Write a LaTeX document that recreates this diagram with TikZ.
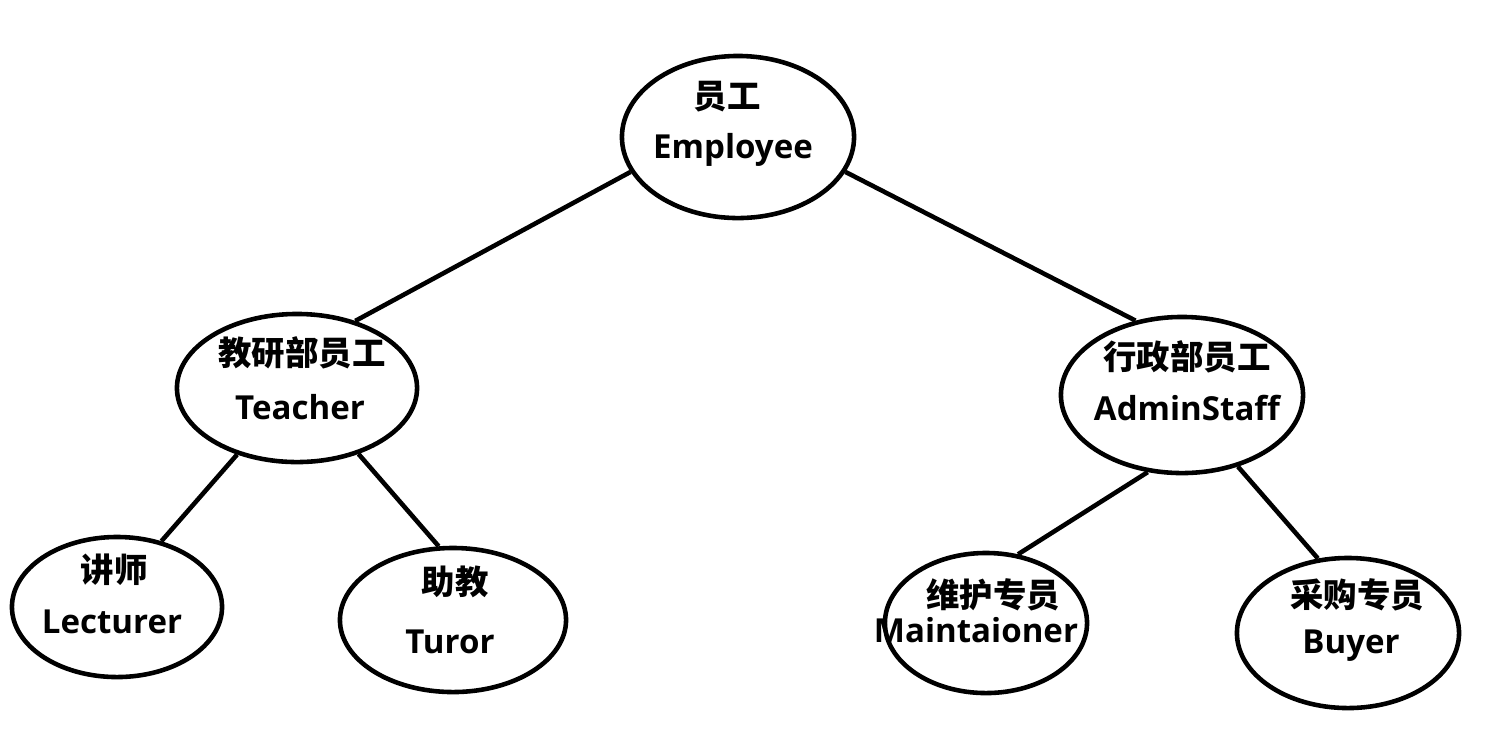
\documentclass[tikz,border=0pt]{standalone}
\usepackage{fontspec}
\setmainfont{Open Sans}
\newfontfamily\cjk{Noto Sans CJK SC}
\usetikzlibrary{shapes.geometric}
\begin{document}
\begin{tikzpicture}[x=0.01cm, y=-0.01cm,
    role/.style ={ellipse, draw, line width=1.3pt, inner sep=0pt},
    link/.style ={line width=1.3pt},
    zh/.style ={font=\cjk\bfseries\fontsize{9.5}{11}\selectfont, inner sep=0pt},
    en/.style ={font=\bfseries\fontsize{9.4}{11}\selectfont, inner sep=0pt, anchor=base}]
   \useasboundingbox (0,0) rectangle (1496,732);

   \node[role, minimum width=2.32cm, minimum height=1.62cm] (emp) at (738,137) {};
   \node[role, minimum width=2.40cm, minimum height=1.48cm] (tea) at (297,388) {};
   \node[role, minimum width=2.42cm, minimum height=1.56cm] (adm) at (1182,395) {};
   \node[role, minimum width=2.10cm, minimum height=1.40cm] (lec) at (117,607) {};
   \node[role, minimum width=2.26cm, minimum height=1.44cm] (tur) at (453,620) {};
   \node[role, minimum width=2.02cm, minimum height=1.40cm] (mai) at (986,623) {};
   \node[role, minimum width=2.22cm, minimum height=1.50cm] (buy) at (1348,633) {};

   \node[zh] (emp-zh) at (727,97)  {员工};
   \node[en] (emp-en) at (733,158) {Employee};
   \node[zh] (tea-zh) at (302,353) {教研部员工};
   \node[en] (tea-en) at (300,419) {Teacher};
   \node[zh] (adm-zh) at (1187,357) {行政部员工};
   \node[en] (adm-en) at (1187,420) {AdminStaff};
   \node[zh] (lec-zh) at (114,570) {讲师};
   \node[en] (lec-en) at (112,633) {Lecturer};
   \node[zh] (tur-zh) at (455,582) {助教};
   \node[en] (tur-en) at (450,653) {Turor};
   \node[zh] (mai-zh) at (993,595) {维护专员};
   \node[en] (mai-en) at (976,642) {Maintaioner};
   \node[zh] (buy-zh) at (1357,595) {采购专员};
   \node[en] (buy-en) at (1351,653) {Buyer};

   \draw[link] (emp.198) to (tea.49);
   \draw[link] (emp.342) to (adm.122);
   \draw[link] (tea.228) to (lec.56);
   \draw[link] (tea.313) to (tur.101);
   \draw[link] (adm.246) to (mai.65);
   \draw[link] (adm.308) to (buy.112);
 \end{tikzpicture}
\end{document}
